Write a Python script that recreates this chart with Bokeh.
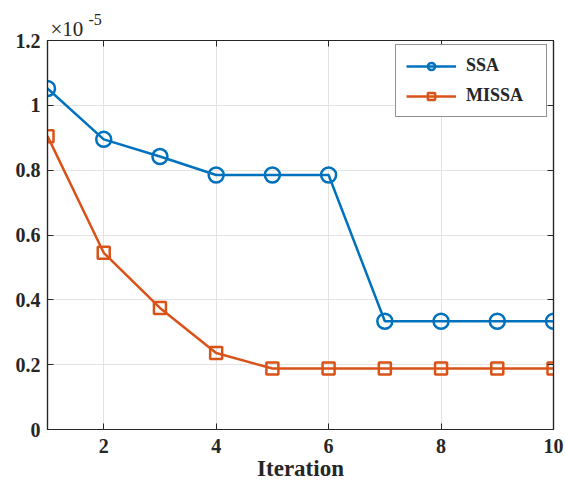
from bokeh.plotting import figure
from bokeh.models import LinearAxis, Range1d, Title, FixedTicker, Legend, LegendItem
from bokeh.embed import file_html
from bokeh.resources import INLINE

iterations = [1, 2, 3, 4, 5, 6, 7, 8, 9, 10]
ssa = [1.052, 0.895, 0.842, 0.785, 0.785, 0.785, 0.334, 0.334, 0.334, 0.334]   # x1e-5
missa = [0.905, 0.545, 0.375, 0.236, 0.188, 0.188, 0.188, 0.188, 0.188, 0.188]  # x1e-5
x_ticks = [2, 4, 6, 8, 10]
y_ticks = [0, 0.2, 0.4, 0.6, 0.8, 1.0, 1.2]
y_labels = ["0", "0.2", "0.4", "0.6", "0.8", "1", "1.2"]

FONT = "Liberation Serif"
BLUE = "#0072BD"
ORANGE = "#D95319"
INK = "#262626"

p = figure(width=566, height=487, output_backend="svg", toolbar_location=None,
           x_range=Range1d(1, 10), y_range=Range1d(0, 1.2),
           min_border_left=47, min_border_right=13, min_border_top=40, min_border_bottom=58,
           x_axis_location=None, y_axis_location=None)
p.outline_line_color = INK
p.outline_line_width = 1.2

def style_axis(ax, ticks, labels=True, overrides=None):
    ax.ticker = FixedTicker(ticks=ticks)
    ax.major_tick_in = 6
    ax.major_tick_out = 0
    ax.minor_tick_line_color = None
    ax.axis_line_color = INK
    ax.axis_line_width = 1.2
    ax.major_tick_line_color = INK
    ax.major_label_text_font = FONT
    ax.major_label_text_font_style = "bold"
    ax.major_label_text_font_size = "20px"
    ax.major_label_text_color = INK
    if overrides:
        ax.major_label_overrides = overrides
    if not labels:
        ax.major_label_text_alpha = 0
        ax.major_label_text_font_size = "1px"
        ax.major_label_standoff = 0

xb = LinearAxis(axis_label="Iteration")
style_axis(xb, x_ticks)
xb.axis_label_text_font = FONT
xb.axis_label_text_font_style = "bold"
xb.axis_label_text_font_size = "23px"
xb.axis_label_text_color = INK
xb.axis_label_standoff = 0
xb.major_label_standoff = 9
p.add_layout(xb, "below")

yl = LinearAxis()
style_axis(yl, y_ticks, overrides={t: l for t, l in zip(y_ticks, y_labels)})
yl.major_label_standoff = 7
p.add_layout(yl, "left")

xa = LinearAxis()
style_axis(xa, x_ticks, labels=False)
p.add_layout(xa, "above")
yr = LinearAxis()
style_axis(yr, y_ticks, labels=False)
p.add_layout(yr, "right")

p.xgrid.ticker = FixedTicker(ticks=x_ticks)
p.ygrid.ticker = FixedTicker(ticks=y_ticks)
p.grid.grid_line_color = "#e3e3e3"
p.grid.grid_line_width = 1

l1 = p.line(iterations, ssa, line_color=BLUE, line_width=2.5)
s1 = p.scatter(iterations, ssa, marker="circle", size=15, line_color=BLUE,
               line_width=2.5, fill_color=None)
l2 = p.line(iterations, missa, line_color=ORANGE, line_width=2.5)
s2 = p.scatter(iterations, missa, marker="square", size=12, line_color=ORANGE,
               line_width=2.5, fill_color=None)

legend = Legend(items=[LegendItem(label="SSA", renderers=[l1, s1]),
                       LegendItem(label="MISSA", renderers=[l2, s2])],
                location=(348, 312))
legend.margin = 0
legend.padding = 10
legend.spacing = 9
legend.glyph_width = 50
legend.glyph_height = 18
legend.label_height = 18
legend.label_width = 70
legend.label_standoff = 10
legend.label_text_font = FONT
legend.label_text_font_style = "bold"
legend.label_text_font_size = "18px"
legend.label_text_color = INK
legend.border_line_color = INK
legend.border_line_width = 1.2
legend.background_fill_color = "white"
p.add_layout(legend, "center")

t_base = Title(text="×10", align="left", offset=3, standoff=0,
               text_font=FONT, text_font_size="21px", text_font_style="normal",
               text_color=INK)
t_exp = Title(text="-5", align="left", offset=41, standoff=-20,
              text_font=FONT, text_font_size="16px", text_font_style="normal",
              text_color=INK)
p.add_layout(t_base, "above")
p.add_layout(t_exp, "above")

open("out.html", "w").write(file_html(p, INLINE))
